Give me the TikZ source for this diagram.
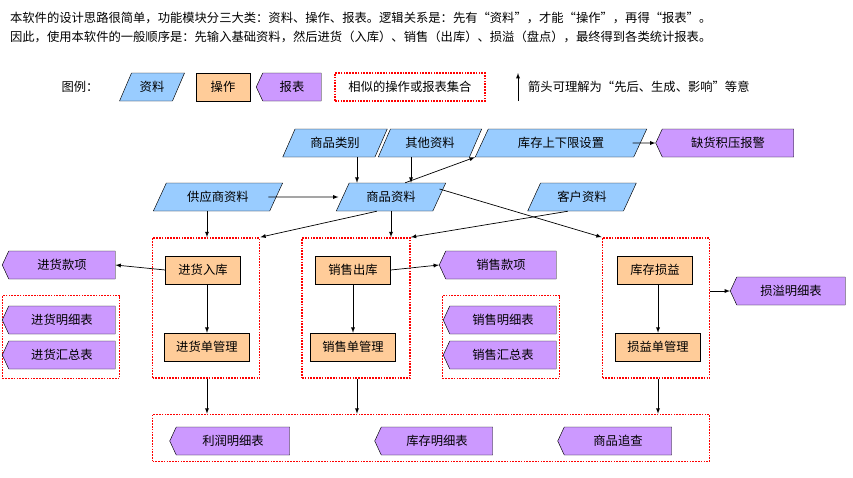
\documentclass[tikz,border=0pt]{standalone}
\usepackage{fontspec}
\setmainfont{Noto Sans CJK SC}
\usetikzlibrary{shapes.geometric,shapes.symbols}
\definecolor{zlblue}{HTML}{99CCFF}
\definecolor{czorange}{HTML}{FFCC99}
\definecolor{bbpurple}{HTML}{CC99FF}
\tikzset{
  ziliao/.style={trapezium,trapezium left angle=60,trapezium right angle=120,trapezium stretches=true,
    draw,fill=zlblue,minimum height=28*0.03cm,inner sep=1pt},
  caozuo/.style={rectangle,draw,fill=czorange,minimum height=28*0.03cm,minimum width=75*0.03cm,inner sep=1pt},
  baobiao/.style={signal,signal to=west,signal from=nowhere,signal pointer angle=130,draw,fill=bbpurple,
    minimum height=28*0.03cm,inner sep=1pt},
  jihe/.style={rectangle,draw=red,densely dotted,line width=1.4pt},
  jt/.style={-latex,semithick}
}
\begin{document}
\begin{tikzpicture}[x=0.03cm,y=-0.03cm,font=\fontsize{10.5}{12}\selectfont]
  \useasboundingbox (0,0) rectangle (853,477);
  % description
  \node[anchor=west] (line1) at (6,18) {本软件的设计思路很简单，功能模块分三大类：资料、操作、报表。逻辑关系是：先有“资料”，才能“操作”，再得“报表”。};
  \node[anchor=west] (line2) at (6,37) {因此，使用本软件的一般顺序是：先输入基础资料，然后进货（入库）、销售（出库）、损溢（盘点），最终得到各类统计报表。};

  % legend
  \node (tuli) at (80,87) {图例：};
  \node[ziliao,minimum width=65*0.03cm] (lzl) at (152,87) {资料};
  \node[caozuo,minimum width=54*0.03cm] (lcz) at (223,87) {操作};
  \node[baobiao,minimum width=65*0.03cm] (lbb) at (292,87) {报表};
  \node[jihe,minimum width=150*0.03cm,minimum height=28*0.03cm] (ljh) at (410,87) {相似的操作或报表集合};
  \coordinate (lja) at (518,101);
  \coordinate (ljb) at (518,73);
  \draw[jt] (lja) -- (ljb);
  \node[anchor=west] (ljt) at (524,87) {箭头可理解为“先后、生成、影响”等意};

  % data
  \node[ziliao,minimum width=105*0.03cm] (splb) at (335,143) {商品类别};
  \node[ziliao,minimum width=104*0.03cm] (qtzl) at (430,143) {其他资料};
  \node[ziliao,minimum width=172*0.03cm] (kcsx) at (561,143) {库存上下限设置};
  \node[baobiao,minimum width=138*0.03cm] (qhbj) at (728,143) {缺货积压报警};
  \node[ziliao,minimum width=130*0.03cm] (gyzl) at (218,197) {供应商资料};
  \node[ziliao,minimum width=110*0.03cm] (spzl) at (391,197) {商品资料};
  \node[ziliao,minimum width=109*0.03cm] (khzl) at (582,197) {客户资料};

  % groups
  \node[jihe,minimum width=107*0.03cm,minimum height=140*0.03cm] (jhz) at (206,308) {};
  \node[jihe,minimum width=108*0.03cm,minimum height=140*0.03cm] (xsz) at (356,308) {};
  \node[jihe,minimum width=107*0.03cm,minimum height=140*0.03cm] (syz) at (656,308) {};
  \node[jihe,minimum width=557*0.03cm,minimum height=47*0.03cm] (zbz) at (431,438) {};
  \node[jihe,minimum width=117*0.03cm,minimum height=83*0.03cm] (jbz) at (61,337) {};
  \node[jihe,minimum width=117*0.03cm,minimum height=83*0.03cm] (xbz) at (501,337) {};

  % operations
  \node[caozuo] (jhrk) at (203,270) {进货入库};
  \node[caozuo,minimum width=85*0.03cm] (jhgl) at (207,347) {进货单管理};
  \node[caozuo] (xsck) at (353,270) {销售出库};
  \node[caozuo,minimum width=85*0.03cm] (xsgl) at (353,347) {销售单管理};
  \node[caozuo] (kcsy) at (655,270) {库存损益};
  \node[caozuo,minimum width=85*0.03cm] (sygl) at (658,347) {损益单管理};

  % reports
  \node[baobiao,minimum width=113*0.03cm] (jhkx) at (62,265) {进货款项};
  \node[baobiao,minimum width=113*0.03cm] (jhmx) at (62,320) {进货明细表};
  \node[baobiao,minimum width=113*0.03cm] (jhhz) at (62,355) {进货汇总表};
  \node[baobiao,minimum width=117*0.03cm] (xskx) at (501,265) {销售款项};
  \node[baobiao,minimum width=113*0.03cm] (xsmx) at (503,320) {销售明细表};
  \node[baobiao,minimum width=113*0.03cm] (xshz) at (503,355) {销售汇总表};
  \node[baobiao,minimum width=115*0.03cm] (symx) at (791,291) {损溢明细表};
  \node[baobiao,minimum width=120*0.03cm] (lrmx) at (233,441) {利润明细表};
  \node[baobiao,minimum width=118*0.03cm] (kcmx) at (437,441) {库存明细表};
  \node[baobiao,minimum width=114*0.03cm] (spzc) at (618,441) {商品追查};

  % arrows
  \draw[jt] (splb.south -| 357,0) -- (spzl.north -| 357,0);
  \draw[jt] (qtzl.south -| 411,0) -- (spzl.north -| 411,0);
  \draw[jt] (spzl.north east) -- (kcsx.bottom left corner);
  \draw[jt] (kcsx.east) ++(-8,0) -- (qhbj.west);
  \draw[jt] (gyzl.east) ++(-8,0) -- ([xshift=-4*0.03cm]spzl.west);
  \draw[jt] (gyzl.south -| 207,0) -- (jhz.north -| 207,0);
  \draw[jt] (spzl.south west) -- (jhz.north east);
  \draw[jt] (spzl.south) -- (xsz.north -| spzl.south);
  \draw[jt] (khzl.south west) -- (xsz.north east);
  \draw[jt] ([yshift=8*0.03cm]spzl.east) -- (syz.north west);
  \draw[jt] (jhrk.west) -- (jhkx.east);
  \draw[jt] (jhrk.south -| jhgl.north) -- (jhgl.north);
  \draw[jt] (xsck.east) -- (xskx.west);
  \draw[jt] (xsck.south) -- (xsgl.north);
  \draw[jt] (kcsy.south -| sygl.north) -- (sygl.north);
  \draw[jt] (syz.east |- symx.west) -- (symx.west);
  \draw[jt] (jhz.south -| 207,0) -- (zbz.north -| 207,0);
  \draw[jt] (xsz.south -| 357,0) -- (zbz.north -| 357,0);
  \draw[jt] (syz.south -| 658,0) -- (zbz.north -| 658,0);
\end{tikzpicture}
\end{document}
